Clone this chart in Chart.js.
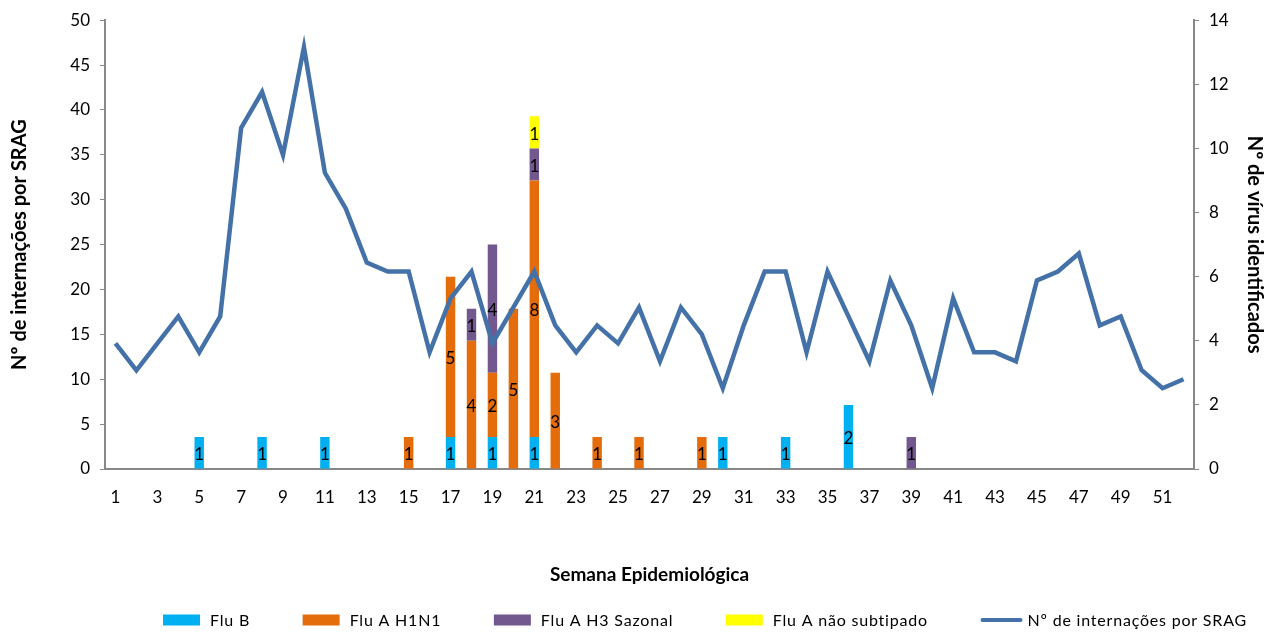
<!DOCTYPE html>
<html>
<head>
<meta charset="utf-8">
<script src="https://cdn.jsdelivr.net/npm/chart.js@4.4.1/dist/chart.umd.min.js"></script>
<style>
html,body{margin:0;padding:0;background:#fff;}
#wrap{width:1266px;height:632px;position:relative;}
</style>
</head>
<body>
<div id="wrap"><canvas id="c" width="1266" height="632"></canvas></div>
<script>
const weeks = Array.from({length: 52}, (_, i) => String(i + 1));

const internacoes = [14,11,14,17,13,17,38,42,35,47,33,29,23,22,22,13,19,22,14,18,22,16,13,16,14,18,12,18,15,9,16,22,22,13,22,17,12,21,16,9,19,13,13,12,21,22,24,16,17,11,9,10];

const fluB      = [0,0,0,0,1,0,0,1,0,0,1,0,0,0,0,0,1,0,1,0,1,0,0,0,0,0,0,0,0,1,0,0,1,0,0,2,0,0,0,0,0,0,0,0,0,0,0,0,0,0,0,0];
const fluAH1N1  = [0,0,0,0,0,0,0,0,0,0,0,0,0,0,1,0,5,4,2,5,8,3,0,1,0,1,0,0,1,0,0,0,0,0,0,0,0,0,0,0,0,0,0,0,0,0,0,0,0,0,0,0];
const fluAH3    = [0,0,0,0,0,0,0,0,0,0,0,0,0,0,0,0,0,1,4,0,1,0,0,0,0,0,0,0,0,0,0,0,0,0,0,0,0,0,1,0,0,0,0,0,0,0,0,0,0,0,0,0];
const fluANaoSub= [0,0,0,0,0,0,0,0,0,0,0,0,0,0,0,0,0,0,0,0,1,0,0,0,0,0,0,0,0,0,0,0,0,0,0,0,0,0,0,0,0,0,0,0,0,0,0,0,0,0,0,0];

const leftTicks = [0,5,10,15,20,25,30,35,40,45,50];
const rightTicks = [0,2,4,6,8,10,12,14];

const FONT = "Lato, 'Open Sans', 'Liberation Sans', sans-serif";

const barLabels = {
  id: 'barLabels',
  afterDatasetsDraw(chart) {
    const ctx = chart.ctx;
    ctx.save();
    ctx.font = "17px " + FONT;
    ctx.fillStyle = '#000';
    ctx.textAlign = 'center';
    ctx.textBaseline = 'middle';
    chart.data.datasets.forEach((ds, di) => {
      if (ds.type !== 'bar') return;
      const meta = chart.getDatasetMeta(di);
      meta.data.forEach((el, i) => {
        const v = ds.data[i];
        if (!v) return;
        const p = el.getProps(['x', 'y', 'base'], true);
        ctx.fillText(String(v), p.x, (p.y + p.base) / 2 + 2);
      });
    });
    ctx.restore();
  }
};

// Legend drawn from the chart's own datasets (Excel-like layout at the bottom)
const bottomLegend = {
  id: 'bottomLegend',
  afterDraw(chart) {
    const ctx = chart.ctx;
    const items = chart.data.datasets;
    const boxW = 37, boxH = 11, textGap = 10;
    const left = 163, right = 1247;
    const cy = chart.height - 12;
    ctx.save();
    ctx.font = "16px " + FONT;
    try { ctx.letterSpacing = '0.8px'; } catch (e) {}
    const widths = items.map(ds => boxW + textGap + ctx.measureText(ds.label).width);
    const total = widths.reduce((a, b) => a + b, 0);
    const gap = (right - left - total) / (items.length - 1);
    let x = left;
    items.forEach((ds, i) => {
      if (ds.type === 'line') {
        ctx.strokeStyle = ds.borderColor;
        ctx.lineWidth = 4;
        ctx.lineCap = 'round';
        ctx.beginPath();
        ctx.moveTo(x + 2, cy);
        ctx.lineTo(x + boxW + 3, cy);
        ctx.stroke();
      } else {
        ctx.fillStyle = ds.backgroundColor;
        ctx.fillRect(x, cy - boxH / 2, boxW, boxH);
      }
      ctx.fillStyle = '#000';
      ctx.textAlign = 'left';
      ctx.textBaseline = 'middle';
      ctx.fillText(ds.label, x + boxW + textGap, cy + 1);
      x += widths[i] + gap;
    });
    ctx.restore();
  }
};

const mkBar = (label, data, color) => ({
  type: 'bar', label, data: data.map(v => v || null), backgroundColor: color,
  yAxisID: 'y1', stack: 'v', order: 1,
  barPercentage: 0.45, categoryPercentage: 1.0, borderWidth: 0
});

new Chart(document.getElementById('c'), {
  data: {
    labels: weeks,
    datasets: [
      mkBar('Flu B', fluB, '#00B0F0'),
      mkBar('Flu A H1N1', fluAH1N1, '#E46C0A'),
      mkBar('Flu A H3 Sazonal', fluAH3, '#72588E'),
      mkBar('Flu A não subtipado', fluANaoSub, '#FFFF00'),
      {
        type: 'line', label: 'Nº de internações por SRAG', data: internacoes,
        borderColor: '#4472A8', backgroundColor: '#4472A8', borderWidth: 4.5,
        pointRadius: 0, tension: 0, yAxisID: 'y', order: 0
      }
    ]
  },
  options: {
    responsive: false,
    animation: false,
    devicePixelRatio: 1,
    layout: { padding: { top: 16, bottom: 43, left: 0, right: 0 } },
    plugins: {
      tooltip: { enabled: false },
      legend: { display: false }
    },
    scales: {
      x: {
        type: 'category',
        offset: true,
        grid: { display: false },
        border: { display: true, color: '#888', width: 2 },
        ticks: {
          autoSkip: false, maxRotation: 0, padding: 10,
          color: '#000', font: { family: FONT, size: 17 },
          callback(val, idx) { return idx % 2 === 0 ? this.getLabelForValue(val) : ''; }
        },
        title: {
          display: true, text: 'Semana Epidemiológica', color: '#000',
          font: { family: FONT, size: 19, weight: 'bold' },
          padding: { top: 40, bottom: 3 }
        },
        afterFit(s) { s.height = 120; }
      },
      y: {
        position: 'left', min: 0, max: 50,
        afterBuildTicks(s) { s.ticks = leftTicks.map(v => ({ value: v })); },
        grid: { drawOnChartArea: false, drawTicks: true, tickLength: 5, color: '#888' },
        border: { display: true, color: '#888', width: 2 },
        ticks: { color: '#000', font: { family: FONT, size: 17 }, padding: 10 },
        title: {
          display: true, text: 'Nº de internações por SRAG', color: '#000',
          font: { family: FONT, size: 20, weight: 'bold' }, padding: { top: 8, bottom: 0 }
        },
        afterFit(s) { s.width = 105; }
      },
      y1: {
        position: 'right', min: 0, max: 14, stacked: true,
        afterBuildTicks(s) { s.ticks = rightTicks.map(v => ({ value: v })); },
        grid: { drawOnChartArea: false, drawTicks: true, tickLength: 5, color: '#888' },
        border: { display: true, color: '#888', width: 2 },
        ticks: { color: '#000', font: { family: FONT, size: 17 }, padding: 10 },
        title: {
          display: true, text: 'Nº de vírus identificados', color: '#000',
          font: { family: FONT, size: 20, weight: 'bold' }, padding: { top: 0, bottom: 0 }
        },
        afterFit(s) { s.width = 72; }
      }
    }
  },
  plugins: [barLabels, bottomLegend]
});
</script>
</body>
</html>
